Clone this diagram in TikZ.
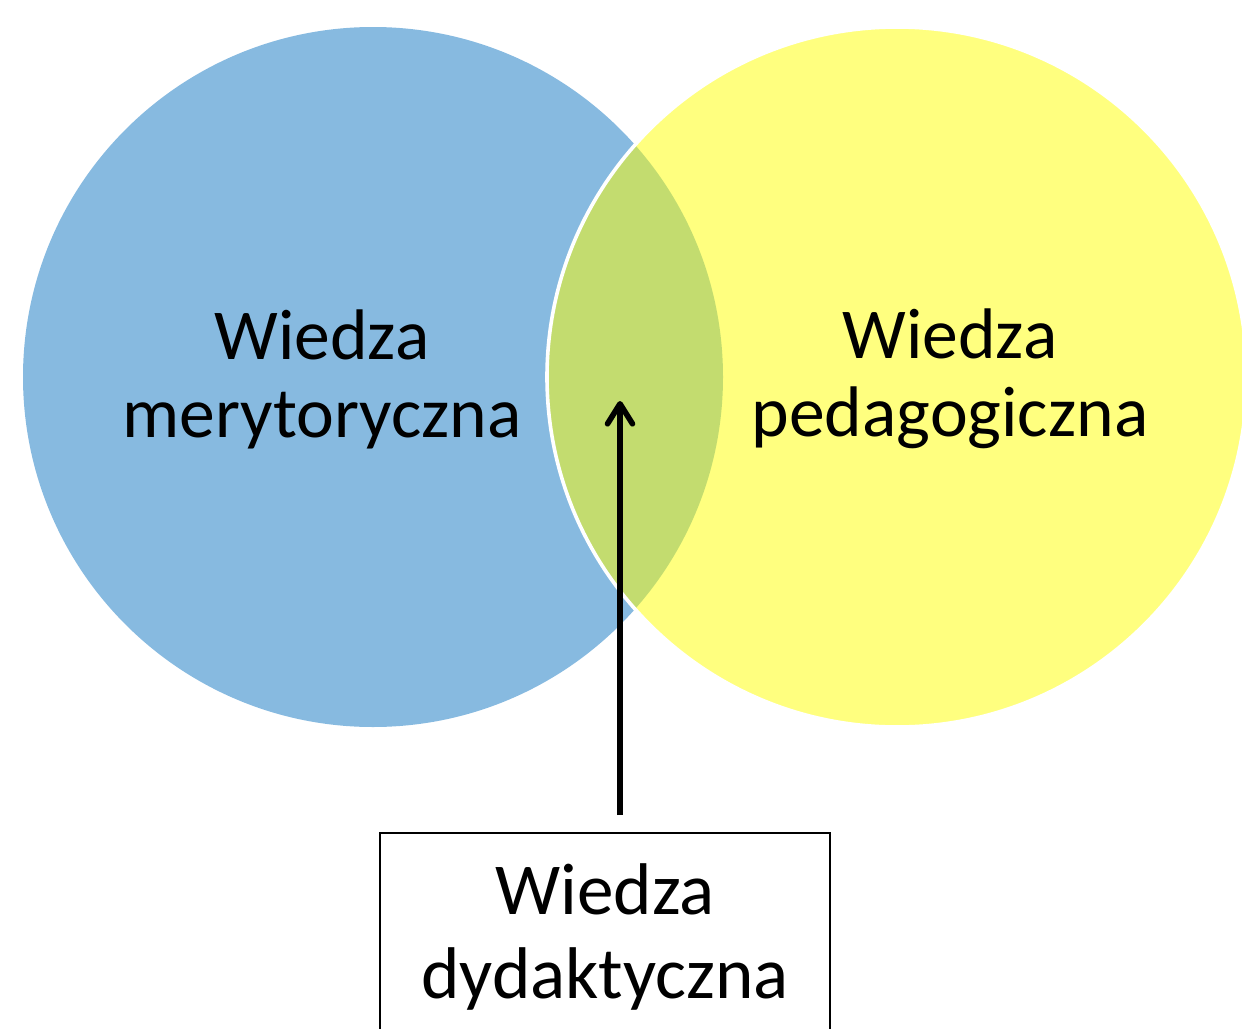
\documentclass[tikz,border=0pt]{standalone}
\usepackage{fontspec}
\setmainfont{Carlito}
\usetikzlibrary{arrows.meta}
\definecolor{setblue}{RGB}{135,186,224}
\definecolor{setyellow}{RGB}{255,255,0}
\tikzset{
  setlabel/.style={align=center, inner sep=0pt, font=\fontsize{35.8}{39}\selectfont},
  boxlabel/.style={draw=black, line width=1pt, align=center, inner sep=0pt,
    minimum width=225pt, minimum height=104pt, font=\fontsize{36.6}{42}\selectfont},
  arrowline/.style={line width=2.8pt, -{Straight Barb[round, length=10pt, width=12.5pt]}}
}
\begin{document}
\begin{tikzpicture}[x=0.5pt, y=-0.5pt]
  \useasboundingbox (0,0) rectangle (1242,1028);
  \fill[setblue] (373,377) circle[radius=350];
  \path[fill=setyellow, fill opacity=0.5, draw=white, line width=1.8pt] (897,377) circle[radius=350];
  \node[setlabel] (merit) at (322,379) {Wiedza\\merytoryczna};
  \node[setlabel] (pedag) at (950,379) {Wiedza\\pedagogiczna};
  \node[boxlabel, anchor=north] (box) at (605,832) {Wiedza\\dydaktyczna};
  \coordinate (tip) at (620,401);
  \draw[arrowline, shorten <=8.5pt] (box.north -| tip) -- (tip);
\end{tikzpicture}
\end{document}
